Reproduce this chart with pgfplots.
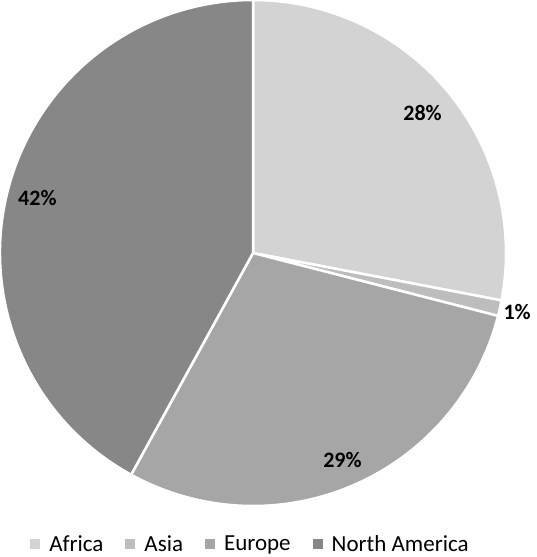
\documentclass[border=0pt]{standalone}
\usepackage{pgfplots}
\usepackage{pgfplotstable}
\pgfplotsset{compat=1.18}
\usepackage{fontspec}
\setmainfont{Carlito}
\definecolor{cA}{HTML}{D3D3D3}
\definecolor{cB}{HTML}{BDBDBD}
\definecolor{cC}{HTML}{A6A6A6}
\definecolor{cD}{HTML}{878787}
\pgfplotstableread[col sep=comma]{
name,value,lr,col
Africa,28,0.87,cA
Asia,1,1.07,cB
Europe,29,0.89,cC
North America,42,0.88,cD
}\piedata
\begin{document}
\begin{tikzpicture}
\begin{axis}[
  x=253pt, y=253pt,
  xmin=-1, xmax=1, ymin=-1, ymax=1,
  hide axis, clip=false,
  legend image code/.code={\fill[#1,draw=none] (0pt,-5pt) rectangle (10pt,5pt);},
  legend style={at={(axis cs:-0.01,-1.15)}, anchor=center, draw=none, fill=none,
    legend columns=4, font=\fontsize{23}{27}\selectfont, text=black,
    /tikz/every odd column/.append style={column sep=7pt},
    /tikz/every even column/.append style={column sep=20pt}},
]
\coordinate (c) at (axis cs:0,0);
\pgfplotsextra{%
  \gdef\startang{90}%
  \foreach \i in {0,1,2,3}{%
    \pgfplotstablegetelem{\i}{value}\of\piedata \let\val\pgfplotsretval
    \pgfplotstablegetelem{\i}{lr}\of\piedata \let\lr\pgfplotsretval
    \pgfplotstablegetelem{\i}{col}\of\piedata \let\col\pgfplotsretval
    \pgfmathsetmacro\endang{\startang-3.6*\val}%
    \pgfmathsetmacro\midang{(\startang+\endang)/2}%
    \pgfmathsetmacro\rr{\lr*253}%
    \fill[fill=\col, draw=white, line width=2.5pt, line join=round]
      (axis cs:0,0) -- ++(\startang:253pt) arc[start angle=\startang, end angle=\endang, radius=253pt] -- cycle;
    \node[font=\bfseries\fontsize{22}{26}\selectfont, text=black]
      at ([shift={(\midang:\rr pt)}]axis cs:0,0) {\val\%};
    \xdef\startang{\endang}%
  }%
}
\addlegendimage{fill=cA}\addlegendentry{Africa}
\addlegendimage{fill=cB}\addlegendentry{Asia}
\addlegendimage{fill=cC}\addlegendentry{Europe}
\addlegendimage{fill=cD}\addlegendentry{North America}
\end{axis}
\pgfresetboundingbox
\path ([shift={(-253pt,-304pt)}]c) rectangle ([shift={(283pt,253pt)}]c);
\end{tikzpicture}
\end{document}
